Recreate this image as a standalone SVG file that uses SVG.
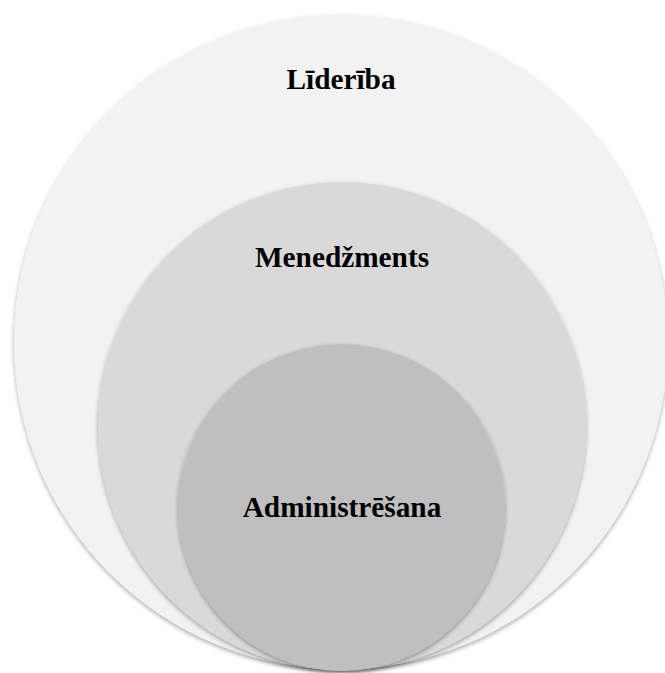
<svg xmlns="http://www.w3.org/2000/svg" width="665" height="673" viewBox="0 0 665 673">
  <defs>
    <filter id="soft" x="-10%" y="-10%" width="120%" height="120%">
      <feDropShadow dx="0" dy="2" stdDeviation="2" flood-color="#000" flood-opacity="0.35"/>
    </filter>
  </defs>
  <style>
    .lbl { font-family: "Liberation Serif", "Times New Roman", serif; font-weight: bold; font-size: 29.3px; fill: #000; text-anchor: middle; }
  </style>
  <rect width="665" height="673" fill="#fff"/>
  <g id="liderība">
    <circle cx="341" cy="342" r="327" fill="#f2f2f2" filter="url(#soft)"/>
    <text class="lbl" x="341" y="89">Līderība</text>
  </g>
  <g id="menedzments">
    <circle cx="342" cy="426" r="244" fill="#d9d9d9" filter="url(#soft)"/>
    <text class="lbl" x="342" y="267">Menedžments</text>
  </g>
  <g id="administresana">
    <circle cx="341.5" cy="507.5" r="163.5" fill="#bfbfbf" filter="url(#soft)"/>
    <text class="lbl" x="342" y="517">Administrēšana</text>
  </g>
</svg>
